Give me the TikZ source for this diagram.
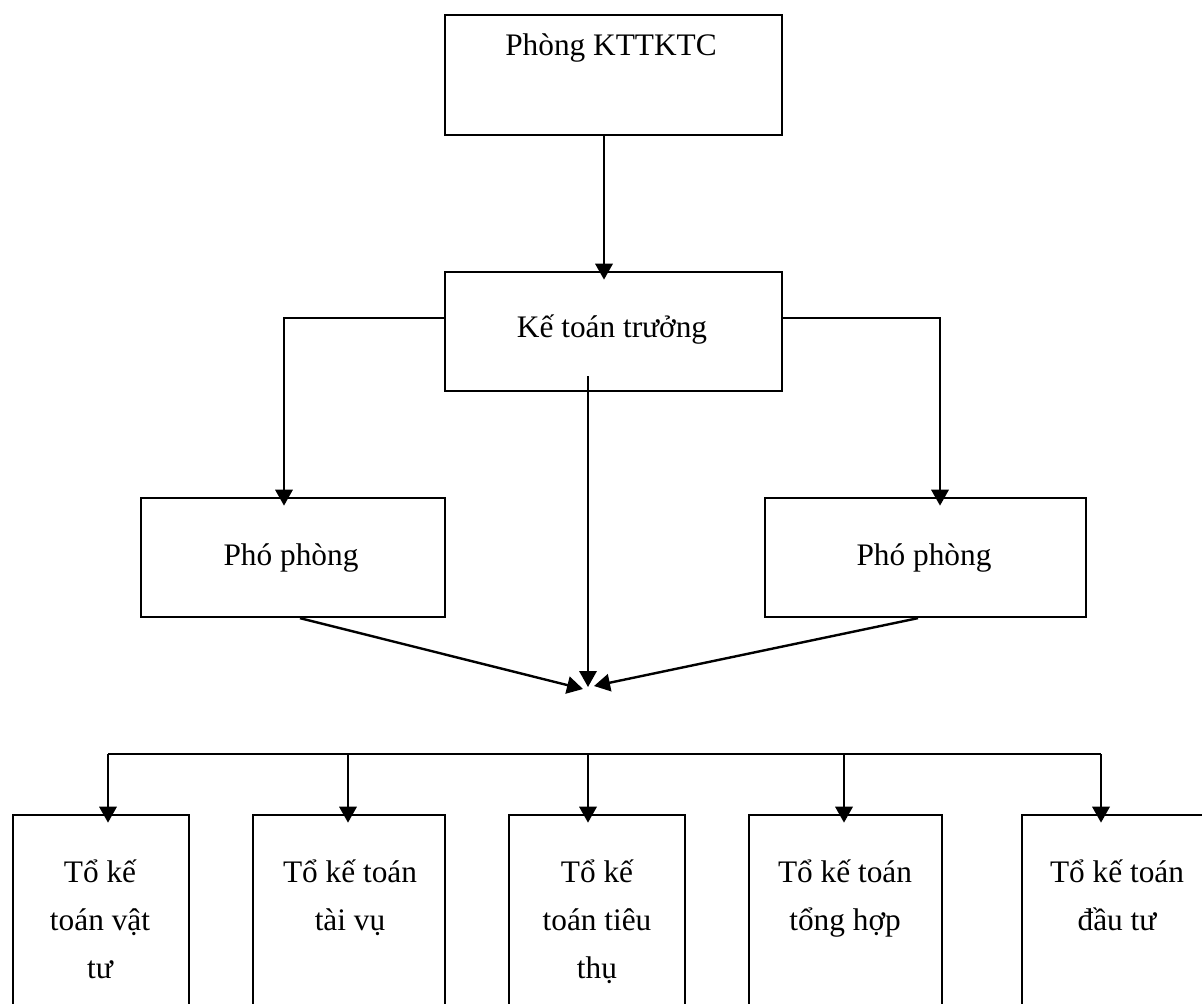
\documentclass[tikz,border=0pt]{standalone}
\usepackage{fontspec}
\setmainfont{Liberation Serif}
\usetikzlibrary{arrows.meta}
\begin{document}
\begin{tikzpicture}[x=0.75pt,y=-0.75pt,
  box/.style={draw, line width=1.6pt, inner sep=0pt, anchor=north west},
  link/.style={line width=1.8pt},
  conn/.style={link, -{Triangle[length=12pt,width=13pt]}},
  into/.style={shorten >=-6.5pt},
  lbl/.style={font=\fontsize{23.5pt}{36pt}\selectfont, anchor=base, inner sep=0pt}]
\clip (0,0) rectangle (1202,1003);

% boxes
\node[box, minimum width=252.75pt, minimum height=90pt]    (top) at (444,14)  {};
\node[box, minimum width=252.75pt, minimum height=89.25pt] (mid) at (444,271) {};
\node[box, minimum width=228pt,    minimum height=89.25pt] (pl)  at (140,497) {};
\node[box, minimum width=240.75pt, minimum height=89.25pt] (pr)  at (764,497) {};
\node[box, minimum width=132pt,    minimum height=165pt]   (b1)  at (12,814)  {};
\node[box, minimum width=144pt,    minimum height=165pt]   (b2)  at (252,814) {};
\node[box, minimum width=132pt,    minimum height=165pt]   (b3)  at (508,814) {};
\node[box, minimum width=144.75pt, minimum height=165pt]   (b4)  at (748,814) {};
\node[box, minimum width=150pt,    minimum height=165pt]   (b5)  at (1021,814) {};

% labels
\node[lbl] (ttop) at (611,55)  {Phòng KTTKTC};
\node[lbl] (tmid) at (612,337) {Kế toán trưởng};
\node[lbl] (tpl)  at (291,565) {Phó phòng};
\node[lbl] (tpr)  at (924,565) {Phó phòng};
\node[lbl] (tb1)  at (100,882) {\begin{tabular}[t]{@{}c@{}}Tổ kế\\toán vật\\tư\end{tabular}};
\node[lbl] (tb2)  at (350,882) {\begin{tabular}[t]{@{}c@{}}Tổ kế toán\\tài vụ\end{tabular}};
\node[lbl] (tb3)  at (597,882) {\begin{tabular}[t]{@{}c@{}}Tổ kế\\toán tiêu\\thụ\end{tabular}};
\node[lbl] (tb4)  at (845,882) {\begin{tabular}[t]{@{}c@{}}Tổ kế toán\\tổng hợp\end{tabular}};
\node[lbl] (tb5)  at (1117,882) {\begin{tabular}[t]{@{}c@{}}Tổ kế toán\\đầu tư\end{tabular}};

% guide coordinates
\coordinate (cTop) at (604,0);
\coordinate (cL) at (284,0);
\coordinate (cR) at (940,0);
\coordinate (split) at (0,318);
\coordinate (midStart) at (588,376);
\coordinate (meet) at (588,687);
\coordinate (meetL) at (583,689);
\coordinate (meetR) at (594,686);
\coordinate (plOut) at (300,0);
\coordinate (prOut) at (918,0);
\coordinate (bus) at (0,754);
\coordinate (x1) at (108,0);
\coordinate (x2) at (348,0);
\coordinate (x3) at (588,0);
\coordinate (x4) at (844,0);
\coordinate (x5) at (1101,0);

% connectors
\draw[conn, into] (cTop |- top.south) -- (cTop |- mid.north);
\draw[conn, into] (mid.west |- split) -| (cL |- pl.north);
\draw[conn, into] (mid.east |- split) -| (cR |- pr.north);
\draw[conn] (midStart) -- (meet);
\draw[conn] (plOut |- pl.south) -- (meetL);
\draw[conn] (prOut |- pr.south) -- (meetR);

\draw[link] (x1 |- bus) -- (x5 |- bus);
\draw[conn, into] (x1 |- bus) -- (x1 |- b1.north);
\draw[conn, into] (x2 |- bus) -- (x2 |- b2.north);
\draw[conn, into] (x3 |- bus) -- (x3 |- b3.north);
\draw[conn, into] (x4 |- bus) -- (x4 |- b4.north);
\draw[conn, into] (x5 |- bus) -- (x5 |- b5.north);
\end{tikzpicture}
\end{document}
